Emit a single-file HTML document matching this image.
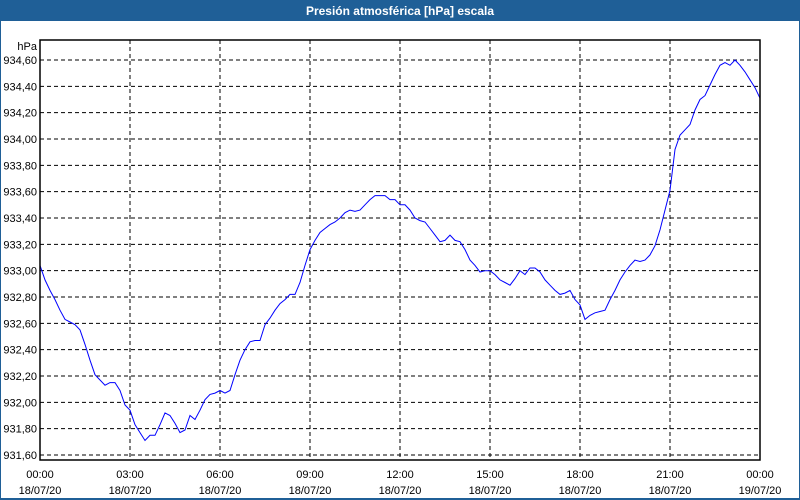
<!DOCTYPE html>
<html><head><meta charset="utf-8"><style>
body{margin:0;width:800px;height:500px;overflow:hidden;font-family:"Liberation Sans","DejaVu Sans",sans-serif;background:#fff}
svg{display:block}
</style></head><body>
<svg id="c" width="800" height="500">
<rect x="0" y="0" width="800" height="500" fill="#1f5f97"/>
<rect x="1" y="21" width="798" height="477" fill="#ffffff"/>
<text x="400" y="15" fill="#fff" font-size="12" font-weight="bold" text-anchor="middle">Presión atmosférica [hPa] escala</text>
<text x="37" y="50" font-size="11" text-anchor="end" fill="#000">hPa</text>
<g id="grid"></g><g id="series"></g>
<rect x="40" y="40" width="720" height="420" fill="none" stroke="#000" stroke-width="1.5"/>
</svg>
<script>
const yTicks=[931.6,931.8,932.0,932.2,932.4,932.6,932.8,933.0,933.2,933.4,933.6,933.8,934.0,934.2,934.4,934.6];
const xTickHours=[0,3,6,9,12,15,18,21,24];
const xTickTimes=["00:00","03:00","06:00","09:00","12:00","15:00","18:00","21:00","00:00"];
const xTickDates=["18/07/20","18/07/20","18/07/20","18/07/20","18/07/20","18/07/20","18/07/20","18/07/20","19/07/20"];
const stepMinutes=10;
const pressure=[933.04,932.93,932.85,932.78,932.70,932.63,932.61,932.59,932.55,932.44,932.32,932.21,932.17,932.13,932.15,932.15,932.09,931.98,931.94,931.83,931.77,931.71,931.75,931.75,931.83,931.92,931.90,931.84,931.77,931.79,931.90,931.87,931.94,932.02,932.06,932.07,932.09,932.07,932.09,932.21,932.32,932.40,932.46,932.47,932.47,932.59,932.64,932.70,932.75,932.78,932.82,932.82,932.91,933.04,933.16,933.23,933.29,933.32,933.35,933.37,933.40,933.44,933.46,933.45,933.46,933.50,933.54,933.57,933.57,933.57,933.54,933.54,933.50,933.50,933.46,933.40,933.38,933.37,933.32,933.27,933.22,933.23,933.27,933.23,933.22,933.16,933.08,933.04,932.99,933.00,933.00,932.97,932.93,932.91,932.89,932.94,933.00,932.97,933.02,933.02,932.99,932.93,932.89,932.85,932.82,932.83,932.85,932.78,932.74,932.63,932.66,932.68,932.69,932.70,932.78,932.85,932.93,932.99,933.04,933.08,933.07,933.08,933.12,933.19,933.31,933.46,933.61,933.92,934.03,934.07,934.11,934.22,934.30,934.33,934.41,934.49,934.56,934.58,934.56,934.60,934.56,934.51,934.45,934.39,934.31];
const NS="http://www.w3.org/2000/svg";
const x=h=>40+h/24*720;
const y=v=>455-(v-931.6)/0.2*26.333;
const grid=document.getElementById('grid');
function mk(t,a){const e=document.createElementNS(NS,t);for(const k in a)e.setAttribute(k,a[k]);return e;}
yTicks.forEach(v=>{
  const l=mk('line',{x1:40,x2:760,y1:y(v),y2:y(v),stroke:'#000','stroke-dasharray':'4,3'});
  
  
  grid.appendChild(l);
  const t=mk('text',{x:37,y:y(v)+4,'font-size':11,'text-anchor':'end',fill:'#000'});
  
  
  t.textContent=v.toFixed(2).replace('.',',');grid.appendChild(t);
});
xTickHours.forEach((h,i)=>{
  const l=mk('line',{x1:x(h),x2:x(h),y1:40,y2:460,stroke:'#000','stroke-dasharray':'4,3'});
  
  
  grid.appendChild(l);
  const t=mk('text',{x:x(h),y:478,'font-size':11,'text-anchor':'middle',fill:'#000'});
  
  
  t.textContent=xTickTimes[i];grid.appendChild(t);
  const d=mk('text',{x:x(h),y:494,'font-size':11,'text-anchor':'middle',fill:'#000'});
  
  
  d.textContent=xTickDates[i];grid.appendChild(d);
});
const pts=pressure.map((v,i)=>x(i*stepMinutes/60).toFixed(1)+','+y(v).toFixed(1)).join(' ');
const pl=mk('polyline',{points:pts,fill:'none',stroke:'#0000ff','stroke-width':1});


document.getElementById('series').appendChild(pl);
</script>
</body></html>
